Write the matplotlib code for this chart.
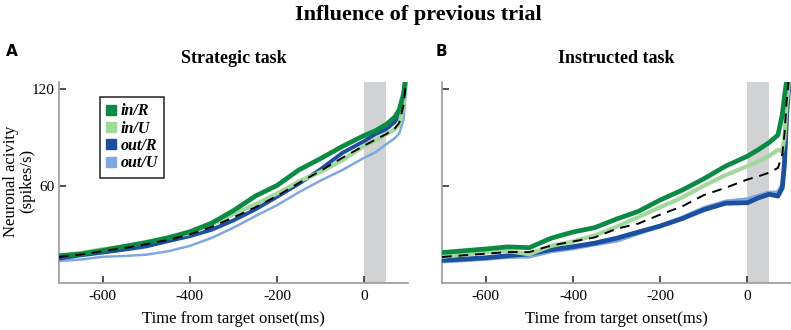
import matplotlib
matplotlib.use("Agg")
import matplotlib.pyplot as plt
from matplotlib.lines import Line2D

# ---------------- data ----------------
t_left = [-700, -650, -600, -550, -500, -450, -400, -350, -300, -250, -200,
          -150, -100, -50, 0, 25, 50, 70, 80, 90, 95, 100]
left_inR = [17.2, 18.3, 20.5, 23, 25.3, 28.3, 32, 37.3, 45, 53.9, 60.5,
            70, 77, 84.5, 91.2, 94, 97.9, 102.5, 107, 117, 128, 140]
left_inU = [17.3, 19, 21.3, 23, 25.8, 28.4, 31, 36.3, 42.8, 48.8, 55.5,
            63, 68.8, 76, 84.7, 88, 91.9, 95, 98, 110, 125, 140]
left_outR = [15.5, 17.5, 19.2, 21, 23, 26.2, 29.3, 33.2, 39, 45.7, 53.5,
             61.5, 70.5, 80.5, 87.7, 92, 95, 99.5, 104, 115, 125, 140]
left_outU = [14, 14.9, 16.6, 17.1, 17.9, 20, 23.3, 28.2, 34.5, 41.6, 48.3,
             56.3, 63.5, 70, 77.5, 80.8, 85.7, 89.5, 92.5, 101, 118, 135]
left_mean = [16.5, 18, 20, 22, 24.3, 27, 30.3, 35, 40.8, 47, 54,
             62, 69.5, 77.5, 85, 88.5, 92, 95.5, 99, 110, 123, 140]

t_right = [-700, -650, -600, -550, -500, -450, -400, -350, -300, -250, -200,
           -150, -100, -50, 0, 25, 50, 70, 80, 85, 90, 95, 100]
right_inR = [19.2, 20.3, 21.4, 22.7, 22.2, 28, 31.8, 34.5, 39.8, 44.5, 51.5,
             57.5, 64.5, 72.3, 78.4, 82.4, 86.8, 91.4, 103.9, 115, 125, 135, 145]
right_inU = [16.6, 18, 19.3, 20.2, 18.2, 23.3, 26, 29.8, 35, 41, 47,
             53, 60.2, 66.8, 72.3, 75.2, 78.6, 82.3, 81.4, 90, 110, 124, 140]
right_outR = [14.5, 15.2, 16, 17.2, 18.4, 21, 22.8, 25, 28, 31.8, 35.5,
              40, 45.5, 49.5, 49.8, 52.8, 55, 53.9, 59, 73.3, 103.9, 122, 140]
right_outU = [13.8, 14.5, 15.4, 16.6, 16.8, 20, 21.8, 24.3, 26.5, 31, 35.5,
              40.5, 46.5, 50.5, 51.9, 54, 56, 56, 61, 75, 105, 124, 140]
right_mean = [16.5, 17.5, 18.5, 19.5, 19.5, 23.5, 26, 28.5, 33.8, 37, 42.5,
              47.5, 54.5, 59, 64.1, 66, 68.3, 71.2, 79.4, 92, 112, 125, 140]

conditions = ["in/R", "in/U", "out/R", "out/U"]
colors = ["#0b8a43", "#a3d89c", "#1d4f9f", "#80a8e0"]
x_ticks = [-600, -400, -200, 0]
y_ticks = [60, 120]
panel_titles = ["Strategic task", "Instructed task"]
panel_letters = ["A", "B"]

# ---------------- figure ----------------
plt.rcParams['font.family'] = ['Liberation Serif', 'DejaVu Serif']
plt.rcParams['axes.unicode_minus'] = False
fig = plt.figure(figsize=(7.91, 3.30), dpi=100)

W, H = 791.0, 330.0
ax_l = fig.add_axes([59 / W, (H - 283) / H, 349 / W, 201 / H])
ax_r = fig.add_axes([442 / W, (H - 283) / H, 349 / W, 201 / H])

spine_col = "#9a9a9a"
datasets = [
    (ax_l, t_left, [left_inR, left_inU, left_outR, left_outU], left_mean),
    (ax_r, t_right, [right_inR, right_inU, right_outR, right_outU], right_mean),
]
lws = [[3.4, 3.0, 2.8, 1.8], [3.4, 3.0, 3.4, 3.0]]
order = [3, 2, 1, 0]
for i, (ax, t, series, mean) in enumerate(datasets):
    ax.axvspan(0, 50, color="#d1d2d4", lw=0, zorder=0)
    for k in order:
        ax.plot(t, series[k], color=colors[k], lw=lws[i][k], zorder=2 + (3 - k),
                solid_joinstyle="round")
    ax.plot(t, mean, color="black", lw=1.4, ls=(0, (5, 3.5)), zorder=10)
    ax.set_xlim(-700, 100)
    ax.set_ylim(0.5, 124)
    ax.set_xticks(x_ticks)
    ax.set_yticks(y_ticks)
    for s in ["top", "right"]:
        ax.spines[s].set_visible(False)
    for s in ["left", "bottom"]:
        ax.spines[s].set_color(spine_col)
        ax.spines[s].set_linewidth(1.2)
    ax.tick_params(direction="in", length=5, width=1.2, color="#333333",
                   labelsize=11, pad=5)
    ax.set_xlabel("Time from target onset(ms)", fontsize=12, labelpad=6)
    ax.set_title(panel_titles[i], fontsize=13, fontweight="bold", pad=14)
    ax.set_facecolor("none")

ax_l.tick_params(axis="y", pad=3)
ax_r.tick_params(axis="y", labelleft=False)

# legend
handles = [Line2D([], [], ls="none", marker="s", markersize=7.5,
                  markerfacecolor=c, markeredgecolor=c) for c in colors]
leg = ax_l.legend(handles, conditions, loc="upper left",
                  bbox_to_anchor=(0.117, 0.925), borderaxespad=0,
                  frameon=True, fancybox=False,
                  handlelength=0.6, handletextpad=0.3, borderpad=0.4,
                  labelspacing=0.08, prop={"family": "Liberation Serif",
                                           "weight": "bold", "style": "italic",
                                           "size": 11.5})
leg.get_frame().set_edgecolor("black")
leg.get_frame().set_linewidth(1.2)
leg.set_zorder(20)

# texts
fig.text(418 / W, 1 - 15 / H, "Influence of previous trial", ha="center",
         va="center", fontsize=16, fontweight="bold")
fig.text(12 / W, 1 - 52 / H, "A", ha="center", va="center", fontsize=11,
         fontweight="bold", family="DejaVu Sans")
fig.text(441 / W, 1 - 52 / H, "B", ha="center", va="center", fontsize=11,
         fontweight="bold", family="DejaVu Sans")
fig.text(19 / W, 1 - 181 / H, "Neuronal acivity\n(spikes/s)", ha="center",
         va="center", rotation=90, fontsize=12, multialignment="center",
         linespacing=1.05)

fig.savefig("out.png", dpi=100)
